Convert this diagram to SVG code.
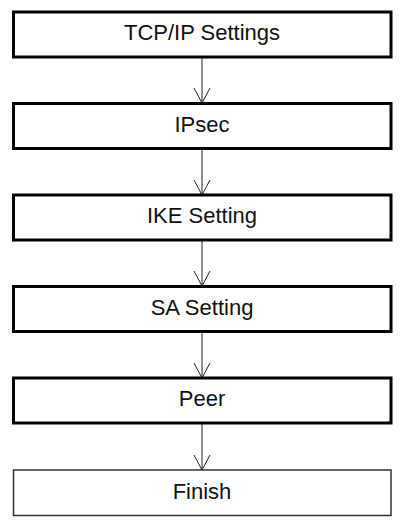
<svg xmlns="http://www.w3.org/2000/svg" width="404" height="523" viewBox="0 0 404 523">
<style>
.box{fill:#fff;stroke:#000;stroke-width:3}
.end{fill:#fff;stroke:#333;stroke-width:1.5}
.lbl{font-family:"Liberation Sans",Arial,sans-serif;font-size:22px;fill:#111;text-anchor:middle}
.con{fill:none;stroke:#222;stroke-width:1}
</style>
<rect width="404" height="523" fill="#fff"/>
<g id="connectors">
<path class="con" d="M202 57V103M194 88L202 103L210 88"/>
<path class="con" d="M202 149V195M194 180L202 195L210 180"/>
<path class="con" d="M202 240V286M194 271L202 286L210 271"/>
<path class="con" d="M202 332V378M194 363L202 378L210 363"/>
<path class="con" d="M202 424V470M194 455L202 470L210 455"/>
</g>
<g id="n1"><rect class="box" x="13.5" y="12" width="377.5" height="45"/><text class="lbl" x="202" y="40">TCP/IP Settings</text></g>
<g id="n2"><rect class="box" x="13.5" y="103.5" width="377.5" height="45"/><text class="lbl" x="202" y="131.5">IPsec</text></g>
<g id="n3"><rect class="box" x="13.5" y="195" width="377.5" height="45"/><text class="lbl" x="202" y="223">IKE Setting</text></g>
<g id="n4"><rect class="box" x="13.5" y="286.5" width="377.5" height="45"/><text class="lbl" x="202" y="314.5">SA Setting</text></g>
<g id="n5"><rect class="box" x="13.5" y="378" width="377.5" height="45"/><text class="lbl" x="202" y="406">Peer</text></g>
<g id="n6"><rect class="end" x="13.5" y="470" width="377.5" height="45.5"/><text class="lbl" x="202" y="499">Finish</text></g>
</svg>
